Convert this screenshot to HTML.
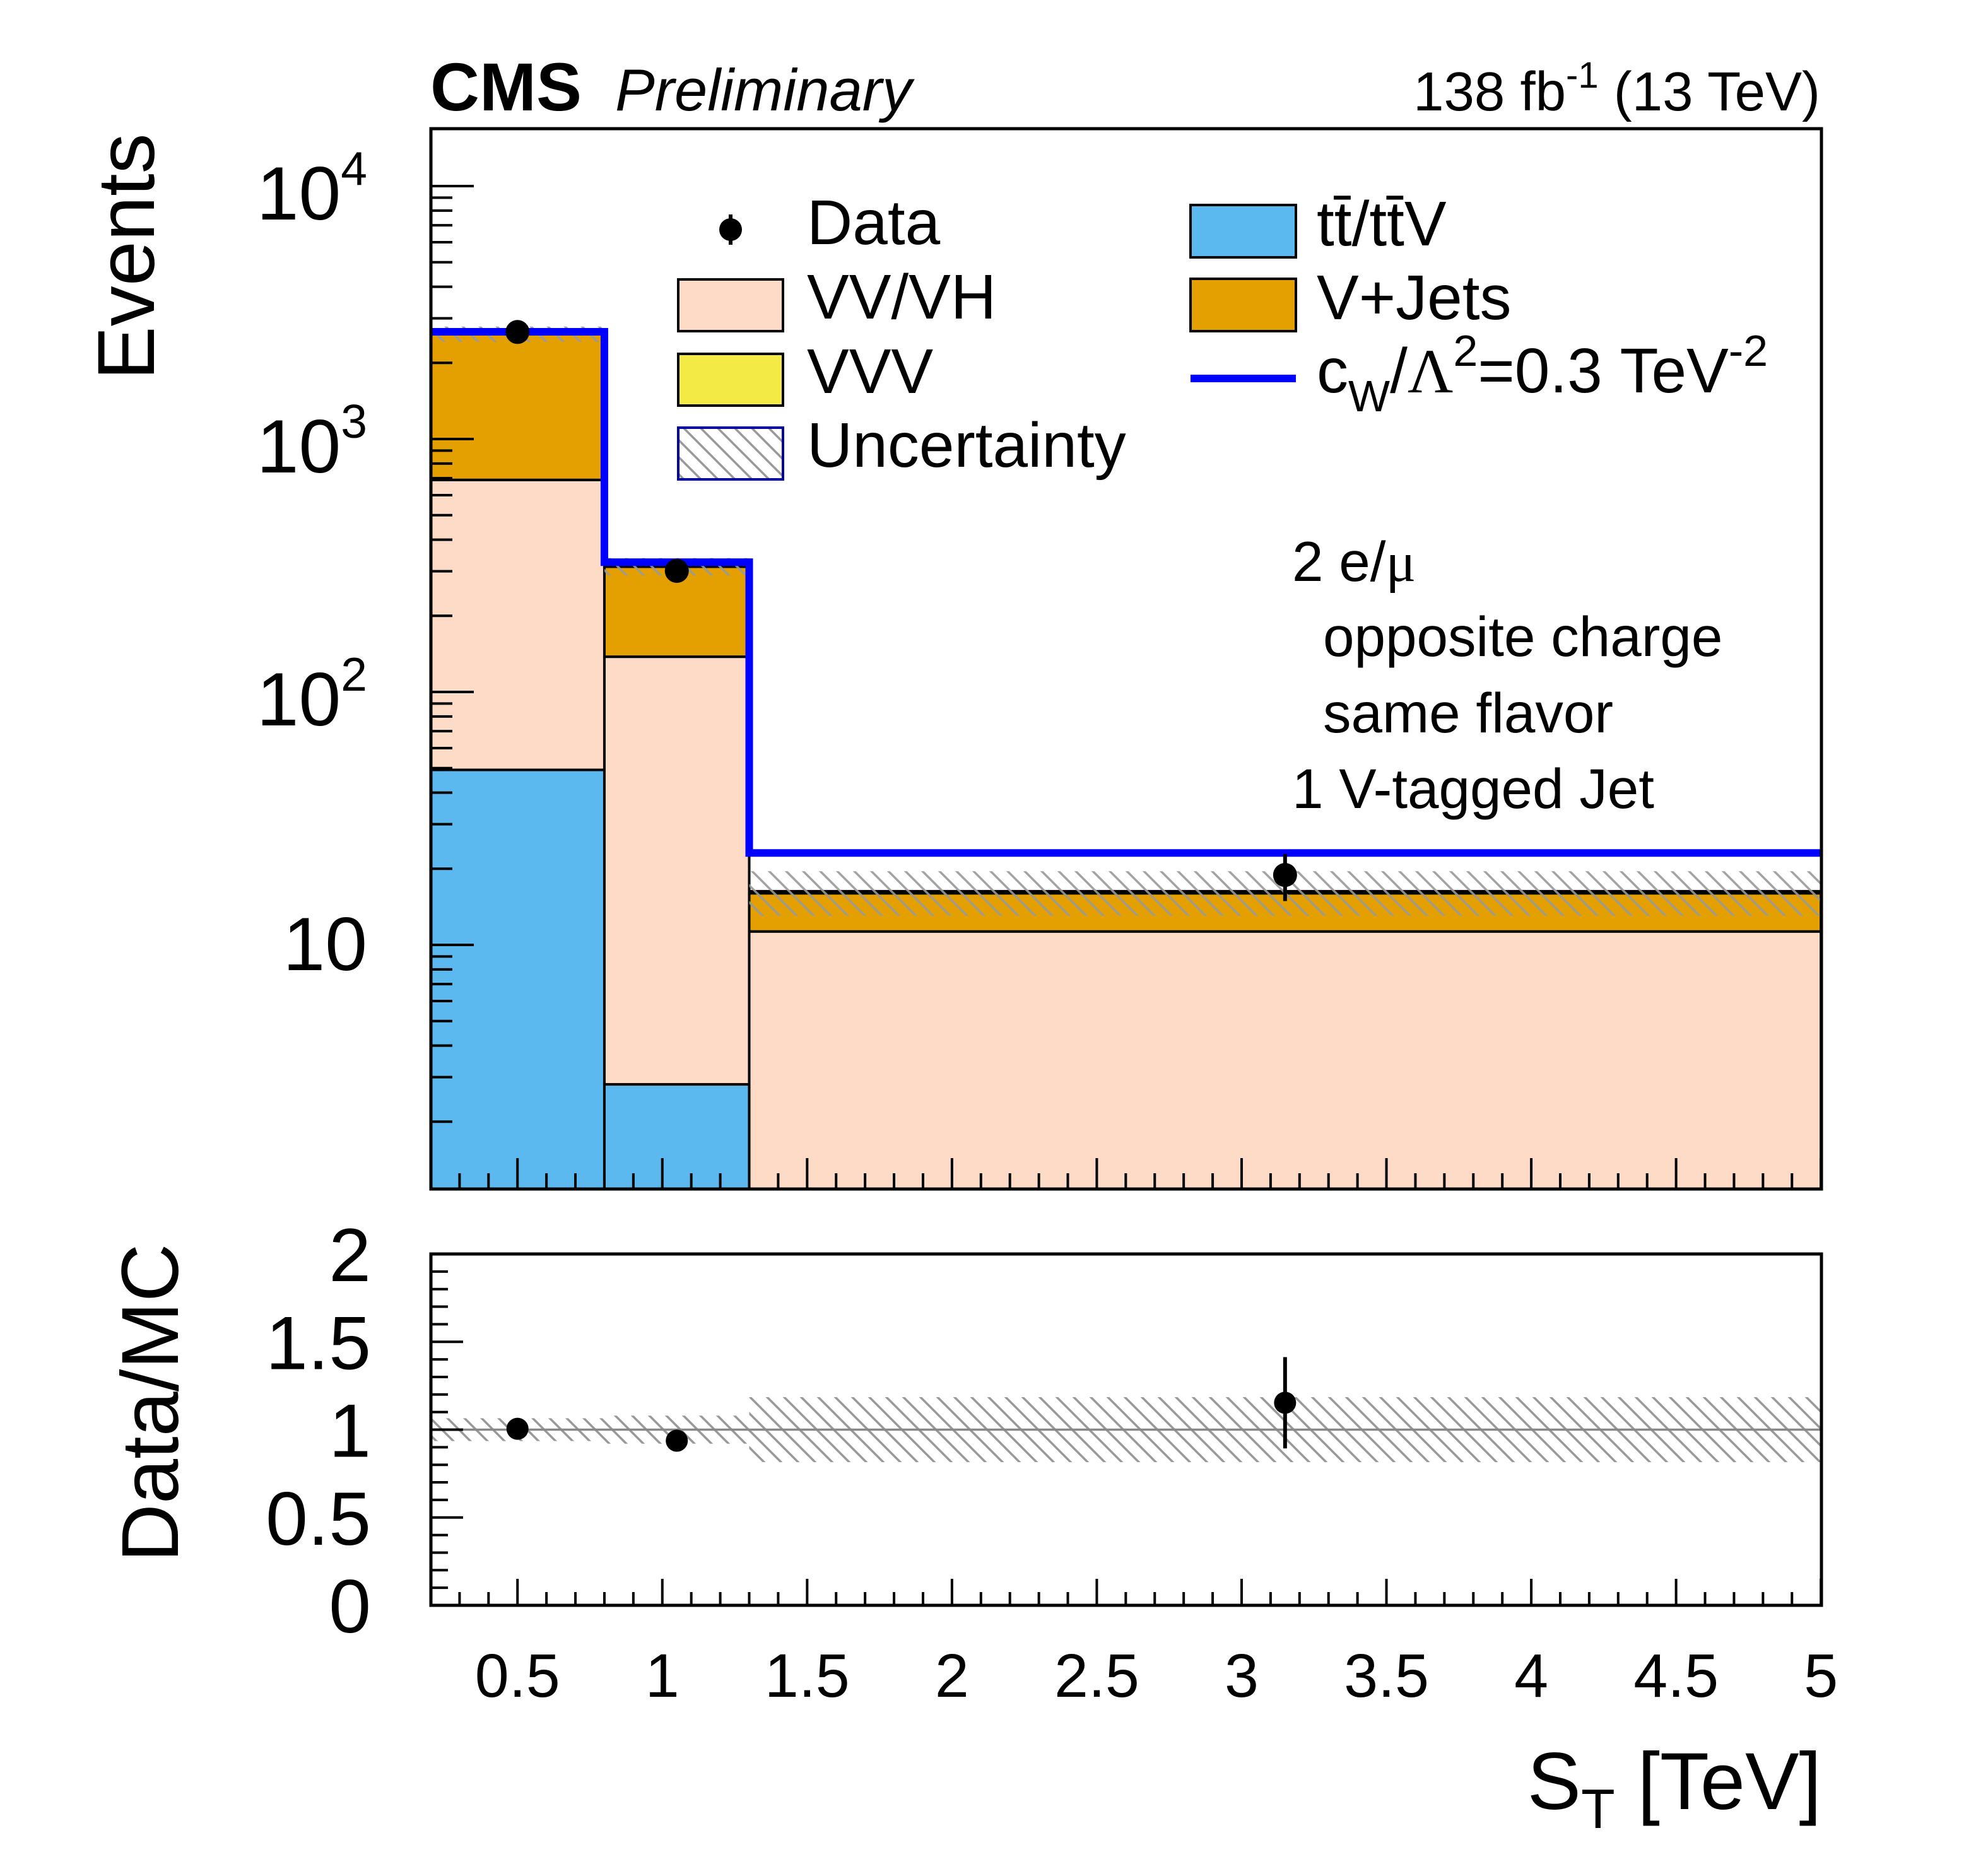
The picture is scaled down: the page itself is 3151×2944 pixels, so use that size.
<!DOCTYPE html>
<html><head><meta charset="utf-8">
<style>
html,body{margin:0;padding:0;background:#fff;}
svg{display:block;}
text{font-family:"Liberation Sans",Arial,sans-serif;fill:#000;}
</style></head>
<body>
<svg id="chart" xmlns="http://www.w3.org/2000/svg" width="3151" height="2944" viewBox="0 0 3151 2944">
<defs>
<pattern id="hatch" patternUnits="userSpaceOnUse" width="27" height="27">
<line x1="-3" y1="-3" x2="30" y2="30" stroke="#999" stroke-width="3.5"/>
<line x1="-30" y1="-3" x2="3" y2="30" stroke="#999" stroke-width="3.5"/>
<line x1="24" y1="-3" x2="57" y2="30" stroke="#999" stroke-width="3.5"/>
</pattern>
<clipPath id="mainClip"><rect x="683" y="204" width="2204" height="1681"/></clipPath>
<clipPath id="ratioClip"><rect x="683" y="1988" width="2204" height="557"/></clipPath>
</defs>

<!-- header -->
<text x="682" y="175" font-size="108" font-weight="bold">CMS</text>
<text x="975" y="175" font-size="94" font-style="italic">Preliminary</text>
<text x="2885" y="175" font-size="87" text-anchor="end">138 fb<tspan dy="-36" font-size="58">-1</tspan><tspan dy="36"> (13 TeV)</tspan></text>

<!-- axis titles -->
<text transform="translate(244,407) rotate(-90)" font-size="128" text-anchor="middle">Events</text>
<text transform="translate(282,2224) rotate(-90)" font-size="128" text-anchor="middle">Data/MC</text>
<text x="2887" y="2868" font-size="128" text-anchor="end">S<tspan dy="30" font-size="88">T</tspan><tspan dy="-30"> [TeV]</tspan></text>

<g id="mainMarks" clip-path="url(#mainClip)"></g>
<g id="ratioMarks" clip-path="url(#ratioClip)"></g>
<g id="axes"></g>

<!-- frames -->
<rect x="683" y="204" width="2204" height="1681" fill="none" stroke="#000" stroke-width="5"/>
<rect x="683" y="1988" width="2204" height="557" fill="none" stroke="#000" stroke-width="5"/>

<!-- legend -->
<g>
<g>
<line x1="1158" y1="340" x2="1158" y2="388" stroke="#000" stroke-width="6"/>
<circle cx="1158" cy="364" r="18" fill="#000"/>
<text x="1279" y="387" font-size="100">Data</text>
</g>
<g>
<rect x="1075" y="443" width="166" height="82" fill="#fddbc7" stroke="#000" stroke-width="4"/>
<text x="1279" y="505" font-size="100">VV/VH</text>
</g>
<g>
<rect x="1075" y="561" width="166" height="82" fill="#f4ea45" stroke="#000" stroke-width="4"/>
<text x="1279" y="623" font-size="100">VVV</text>
</g>
<g>
<rect x="1075" y="678" width="166" height="82" fill="url(#hatch)" stroke="#0000a0" stroke-width="4"/>
<text x="1279" y="740" font-size="100">Uncertainty</text>
</g>
<g>
<rect x="1887" y="325" width="167" height="83" fill="#5cb9ef" stroke="#000" stroke-width="4"/>
<text x="2087" y="389" font-size="100">tt̄/tt̄V</text>
</g>
<g>
<rect x="1887" y="442" width="167" height="83" fill="#e3a000" stroke="#000" stroke-width="4"/>
<text x="2087" y="506" font-size="100">V+Jets</text>
</g>
<g>
<line x1="1887" y1="600" x2="2054" y2="600" stroke="#0000ff" stroke-width="12"/>
<text x="2087" y="622" font-size="100">c<tspan dy="30" font-size="70">W</tspan><tspan dy="-30">/</tspan><tspan font-family="'Liberation Serif',serif">Λ</tspan><tspan dy="-42" font-size="70">2</tspan><tspan dy="42">=0.3 TeV</tspan><tspan dy="-42" font-size="70">-2</tspan></text>
</g>
</g>

<!-- selection annotation -->
<g>
<text x="2048" y="921" font-size="89">2 e/<tspan font-family="'Liberation Serif',serif">μ</tspan></text>
<text x="2097" y="1040" font-size="89">opposite charge</text>
<text x="2097" y="1161" font-size="89">same flavor</text>
<text x="2048" y="1281" font-size="89">1 V-tagged Jet</text>
</g>

<script>
// ---- data ----
const binEdges = [0.2, 0.8, 1.3, 5.0];
const ttbarVals = [49.2, 2.81, 0];
const vvvhVals = [640, 135, 11.3];
const vjetsVals = [1911, 175, 4.7];
const vvvVals = [2, 0.5, 0.3];
const signalVals = [2655, 326, 23.1];
const uncRel = [0.07, 0.08, 0.2];
const dataX = [0.5, 1.05, 3.15];
const dataVals = [2650, 301, 18.9];
const dataErr = [51, 17, 4.0];
const ratioVals = [1.005, 0.937, 1.153];
const ratioErr = [0.02, 0.06, 0.26];
const ratioUnc = [0.065, 0.08, 0.185];
const xTickLabels = ["0.5","1","1.5","2","2.5","3","3.5","4","4.5","5"];
const ratioTickLabels = ["0","0.5","1","1.5","2"];
const logTickExps = [1, 2, 3, 4];

// ---- axes ----
const X0 = 682.5, XU = 459.1, XMIN = 0.2;
function X(v){ return X0 + (v - XMIN) * XU; }
const YBOT = 1885, YTOP = 204;
function Y(v){ return 1899 - 401 * Math.log10(Math.max(v, 1e-3)); }
function R(v){ return 2545 - 278.5 * v; }

const NS = "http://www.w3.org/2000/svg";
function mk(tag, attrs, parent){
  const e = document.createElementNS(NS, tag);
  for (const k in attrs) e.setAttribute(k, attrs[k]);
  parent.appendChild(e);
  return e;
}
const main = document.getElementById('mainMarks');
const ratio = document.getElementById('ratioMarks');
const axes = document.getElementById('axes');

// stacked histogram
const comps = [[ttbarVals,'#5cb9ef','ttbar'],[vvvhVals,'#fddbc7','vvvh'],[vjetsVals,'#e3a000','vjets'],[vvvVals,'#f4ea45','vvv']];
for (let i = 0; i < binEdges.length - 1; i++){
  let cum = 0;
  const x1 = X(binEdges[i]), x2 = X(binEdges[i+1]);
  for (const [vals, col, nm] of comps){
    const lo = cum, hi = cum + vals[i];
    cum = hi;
    if (vals[i] <= 0) continue;
    const yTop = Y(hi), yBot = lo > 0 ? Y(lo) : YBOT + 10;
    const r = mk('rect', {x:x1, y:yTop, width:x2-x1, height:Math.max(0,yBot-yTop), fill:col, stroke:'#000', 'stroke-width':4}, main);
    
    
  }
  const total = cum;
  const u = mk('rect', {x:x1, y:Y(total*(1+uncRel[i])), width:x2-x1, height:Y(total*(1-uncRel[i]))-Y(total*(1+uncRel[i])), fill:'url(#hatch)', 'fill-opacity':0.9}, main);
  
  
}

// signal step line
let d = '';
for (let i = 0; i < signalVals.length; i++){
  const y = Y(signalVals[i]);
  d += (i === 0 ? 'M' : 'L') + X(binEdges[i]) + ',' + y + ' L' + X(binEdges[i+1]) + ',' + y + ' ';
}
const sig = mk('path', {d:d, fill:'none', stroke:'#0000ff', 'stroke-width':12}, main);



// data points
for (let i = 0; i < dataVals.length; i++){
  const g = mk('g', {}, main);
  
  
  mk('line', {x1:X(dataX[i]), x2:X(dataX[i]), y1:Y(dataVals[i]+dataErr[i]), y2:Y(dataVals[i]-dataErr[i]), stroke:'#000', 'stroke-width':6}, g);
  mk('circle', {cx:X(dataX[i]), cy:Y(dataVals[i]), r:19, fill:'#000'}, g);
}

// ratio panel
for (let i = 0; i < ratioUnc.length; i++){
  const x1 = X(binEdges[i]), x2 = X(binEdges[i+1]);
  const b = mk('rect', {x:x1, y:R(1+ratioUnc[i]), width:x2-x1, height:R(1-ratioUnc[i])-R(1+ratioUnc[i]), fill:'url(#hatch)'}, ratio);
  
  
}
const one = mk('line', {x1:683, x2:2887, y1:R(1), y2:R(1), stroke:'#888', 'stroke-width':3.5}, ratio);


for (let i = 0; i < ratioVals.length; i++){
  const g = mk('g', {}, ratio);
  
  
  mk('line', {x1:X(dataX[i]), x2:X(dataX[i]), y1:R(ratioVals[i]+ratioErr[i]), y2:R(ratioVals[i]-ratioErr[i]), stroke:'#000', 'stroke-width':6}, g);
  mk('circle', {cx:X(dataX[i]), cy:R(ratioVals[i]), r:17.5, fill:'#000'}, g);
}

// x ticks
for (let k = 2; k <= 50; k++){
  const v = k / 10;
  const major = (k % 5 === 0);
  const x = X(v);
  mk('line', {x1:x, x2:x, y1:YBOT, y2:YBOT - (major ? 49 : 25), stroke:'#000', 'stroke-width':4}, axes);
  mk('line', {x1:x, x2:x, y1:2545, y2:2545 - (major ? 42 : 21), stroke:'#000', 'stroke-width':4}, axes);
}
for (let i = 0; i < xTickLabels.length; i++){
  const t = mk('text', {x:X(parseFloat(xTickLabels[i])), y:2690, 'font-size':97, 'text-anchor':'middle'}, axes);
  t.textContent = xTickLabels[i];
  
  
}
// ratio y ticks
for (let k = 0; k <= 20; k++){
  const v = k / 10, y = R(v);
  const major = (k % 5 === 0);
  mk('line', {x1:683, x2:683 + (major ? 51 : 27), y1:y, y2:y, stroke:'#000', 'stroke-width':4}, axes);
}
for (let i = 0; i < ratioTickLabels.length; i++){
  const t = mk('text', {x:588, y:R(parseFloat(ratioTickLabels[i])) + 43, 'font-size':120, 'text-anchor':'end'}, axes);
  t.textContent = ratioTickLabels[i];
  
  
}
// log y ticks
for (let e = 0; e <= 4; e++){
  for (let m = 1; m <= 9; m++){
    const v = m * Math.pow(10, e);
    const y = Y(v);
    if (y > YBOT - 1 || y < YTOP + 1) continue;
    mk('line', {x1:683, x2:683 + (m === 1 ? 68 : 34), y1:y, y2:y, stroke:'#000', 'stroke-width':4}, axes);
  }
}
for (let i = 0; i < logTickExps.length; i++){
  const ex = logTickExps[i];
  const y = Y(Math.pow(10, ex));
  const t = mk('text', {x:582, y:y + (ex === 1 ? 40 : 53), 'font-size':120, 'text-anchor':'end'}, axes);
  
  
  if (ex === 1){
    t.textContent = '10';
  } else {
    t.appendChild(document.createTextNode('10'));
    const s = document.createElementNS(NS, 'tspan');
    s.setAttribute('dy', '-55');
    s.setAttribute('font-size', '75');
    s.textContent = String(ex);
    t.appendChild(s);
  }
}
</script>
</svg>
</body></html>
